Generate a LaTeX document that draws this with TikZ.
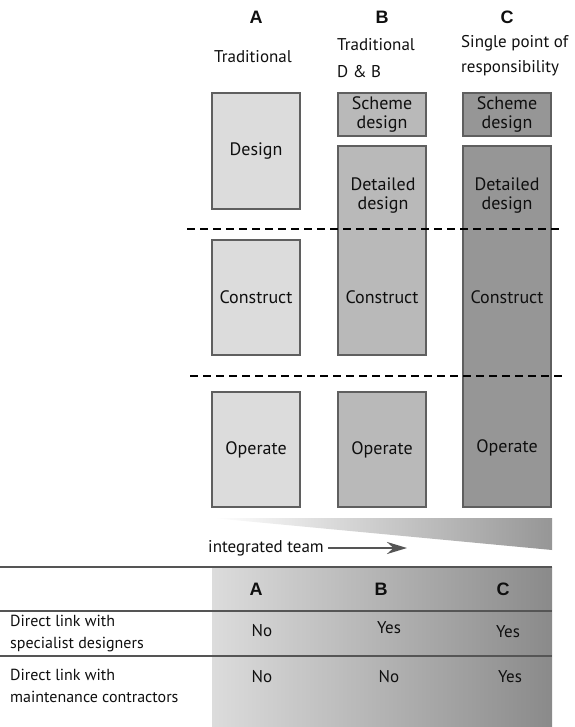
\documentclass[tikz,border=0pt]{standalone}
\usepackage{fontspec}
\setmainfont{PT Sans}
\newfontfamily\headfamily{Liberation Sans}
\usetikzlibrary{arrows.meta,positioning}
\definecolor{fillA}{RGB}{220,220,220}
\definecolor{fillB}{RGB}{185,185,185}
\definecolor{fillC}{RGB}{150,150,150}
\definecolor{boxline}{RGB}{95,95,95}
\definecolor{ruleline}{RGB}{85,85,85}
\definecolor{inkgray}{RGB}{15,15,15}
\definecolor{tableleft}{RGB}{220,220,220}
\definecolor{tableright}{RGB}{138,138,138}
\newcommand{\boxfont}{\fontsize{18}{19}\selectfont}
\newcommand{\titlefont}{\fontsize{17}{20}\selectfont}
\newcommand{\rowfont}{\fontsize{16}{22}\selectfont}
\newcommand{\letterfont}{\headfamily\bfseries\fontsize{18}{20}\selectfont}

\begin{document}
\begin{tikzpicture}[
    x=1pt, y=-1pt,
    stage/.style={draw=boxline, line width=2.5pt, inner sep=0pt, minimum width=88pt,
                  align=center, font=\boxfont, text=inkgray},
    stageA/.style={stage, fill=fillA},
    stageB/.style={stage, fill=fillB},
    stageC/.style={stage, fill=fillC},
    lbl/.style={align=center, font=\boxfont, text=inkgray, inner sep=0pt},
    title/.style={align=left, font=\titlefont, text=inkgray, inner sep=0pt},
    route/.style={align=left, font=\rowfont, text=inkgray, inner sep=0pt},
    answer/.style={font=\titlefont, text=inkgray, inner sep=0pt},
    letter/.style={font=\letterfont, text=inkgray, inner sep=0pt},
    phase/.style={dash pattern=on 8pt off 5pt, line width=2.5pt},
    rule/.style={draw=ruleline, line width=2.5pt},
    >={Stealth[length=20pt, width=12pt]}
]
\useasboundingbox (0,0) rectangle (574,727);

% Column headings
\node[letter] (hA) at (256,17) {A};
\node[letter] (hB) at (382,17) {B};
\node[letter] (hC) at (507,17) {C};
\node[title] (tA) at (253,57) {Traditional};
\node[title, anchor=west] (tB) at (337,58) {Traditional\\[7pt]D \& B};
\node[title, anchor=west] (tC) at (461,56) {Single point of\\[5pt]responsibility};

% Column A
\node[stageA, minimum height=116pt] (desA) at (256,151) {Design};
\node[stageA, minimum height=115pt] (conA) at (256,297.5) {Construct};
\node[stageA, minimum height=115pt] (opA)  at (256,449.5) {Operate};

% Column B
\node[stageB, minimum height=43pt] (schB) at (382,114.5) {Scheme\\design};
\node[stageB, minimum height=209pt] (detB) at (382,250.5) {};
\node[lbl] at (383,196) {Detailed\\design};
\node[lbl] at (382,297) {Construct};
\node[stageB, minimum height=115pt] (opB) at (382,449.5) {Operate};

% Column C
\node[stageC, minimum height=43pt] (schC) at (507,114.5) {Scheme\\design};
\node[stageC, minimum height=361pt] (detC) at (507,326.5) {};
\node[lbl] at (507,196) {Detailed\\design};
\node[lbl] at (507,297) {Construct};
\node[lbl] at (507,448) {Operate};

% Stage boundaries
\draw[phase] (187,229) -- (563,229);
\draw[phase] (190,376) -- (563,376);

% Integration wedge
\shade[left color=white, right color=fillC] (212,518) -- (552,518) -- (552,550) -- cycle;
\node[answer, anchor=west] (team) at (208,548) {integrated team};
\coordinate (teamEnd) at (407,548);
\draw[->, draw=ruleline, line width=2.5pt] (team.east) ++(4pt,0) -- (teamEnd);

% Comparison table
\shade[left color=tableleft, right color=tableright] (212,567) rectangle (552,727);
\draw[rule] (0,567) -- (552,567);
\draw[rule] (0,611) -- (552,611);
\draw[rule] (0,656) -- (552,656);
\node[letter] (cA) at (256,589) {A};
\node[letter] (cB) at (381,589) {B};
\node[letter] (cC) at (503,589) {C};
\node[route, anchor=west] (r1) at (10,634) {Direct link with\\specialist designers};
\node[route, anchor=west] (r2) at (10,686) {Direct link with\\maintenance contractors};
\node[answer] (r1A) at (262,631) {No};
\node[answer] (r1B) at (389,628) {Yes};
\node[answer] (r1C) at (508,632) {Yes};
\node[answer] (r2A) at (262,677) {No};
\node[answer] (r2B) at (389,677) {No};
\node[answer] (r2C) at (510,677) {Yes};
\end{tikzpicture}
\end{document}
